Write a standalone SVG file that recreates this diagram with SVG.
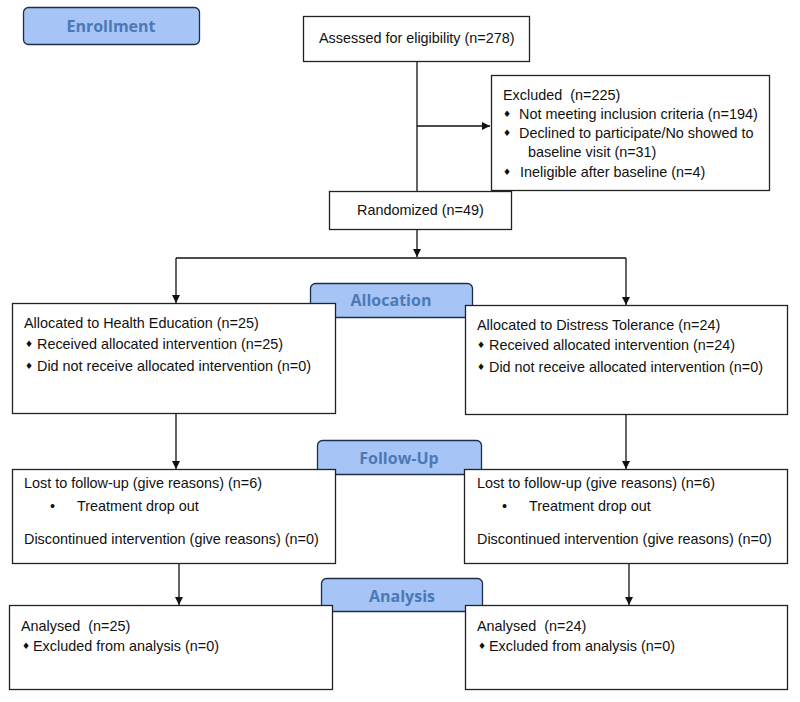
<svg xmlns="http://www.w3.org/2000/svg" width="800" height="702" viewBox="0 0 800 702">
<style>
.box{fill:#fff;stroke:#222;stroke-width:1.3}
.lbl{fill:#a6c4f6;stroke:#1f2d4a;stroke-width:1.3}
.lt{font-family:"Open Sans",sans-serif;font-weight:bold;font-size:16px;fill:#4c79b5;text-anchor:middle;dominant-baseline:central}
.t{font-family:"Liberation Sans",Arial,sans-serif;font-size:14.4px;fill:#111;dominant-baseline:central;white-space:pre}
.d{font-family:"DejaVu Sans",sans-serif;font-size:9px;fill:#111;dominant-baseline:central}
.c{fill:none;stroke:#111;stroke-width:1.3}
</style>
<defs>
<marker id="ah" markerWidth="8" markerHeight="8" refX="8" refY="4" orient="auto" markerUnits="userSpaceOnUse">
<path d="M0,0 L8,4 L0,8 Z" fill="#111"/>
</marker>
</defs>
<rect width="800" height="702" fill="#fff"/>

<g id="connectors">
<path class="c" d="M417,61 V191"/>
<path class="c" d="M417,126 H490" marker-end="url(#ah)"/>
<path class="c" d="M417,229 V257" marker-end="url(#ah)"/>
<path class="c" d="M176,258 H626"/>
<path class="c" d="M176,258 V303" marker-end="url(#ah)"/>
<path class="c" d="M626,258 V305" marker-end="url(#ah)"/>
<path class="c" d="M176,413 V469" marker-end="url(#ah)"/>
<path class="c" d="M626,414 V469" marker-end="url(#ah)"/>
<path class="c" d="M179,563 V605" marker-end="url(#ah)"/>
<path class="c" d="M629,563 V605" marker-end="url(#ah)"/>
</g>

<g id="enrollment">
<rect class="lbl" x="23.5" y="7.5" width="176" height="37" rx="5"/>
<text class="lt" x="111" y="26">Enrollment</text>
</g>

<g id="assessed">
<rect class="box" x="303.5" y="16.5" width="226" height="45"/>
<text class="t" x="319" y="38">Assessed for eligibility (n=278)</text>
</g>

<g id="excluded">
<rect class="box" x="491.5" y="75.5" width="278" height="115"/>
<text class="t" x="503" y="95" xml:space="preserve">Excluded  (n=225)</text>
<text class="d" x="503" y="114">♦</text>
<text class="t" x="519" y="114">Not meeting inclusion criteria (n=194)</text>
<text class="d" x="503" y="133">♦</text>
<text class="t" x="519" y="133">Declined to participate/No showed to</text>
<text class="t" x="528" y="152">baseline visit (n=31)</text>
<text class="d" x="503" y="172">♦</text>
<text class="t" x="520" y="172">Ineligible after baseline (n=4)</text>
</g>

<g id="randomized">
<rect class="box" x="329.5" y="191.5" width="182" height="38"/>
<text class="t" x="357" y="210">Randomized (n=49)</text>
</g>

<g id="allocation">
<rect class="lbl" x="310.5" y="283.5" width="162" height="34" rx="5"/>
<text class="lt" x="391" y="300">Allocation</text>
</g>

<g id="alloc-he">
<rect class="box" x="12.5" y="303.5" width="323" height="110"/>
<text class="t" x="24" y="323">Allocated to Health Education (n=25)</text>
<text class="d" x="25" y="344">♦</text>
<text class="t" x="37" y="344">Received allocated intervention (n=25)</text>
<text class="d" x="25" y="366">♦</text>
<text class="t" x="37" y="366">Did not receive allocated intervention (n=0)</text>
</g>

<g id="alloc-dt">
<rect class="box" x="465.5" y="305.5" width="322" height="109"/>
<text class="t" x="477" y="325">Allocated to Distress Tolerance (n=24)</text>
<text class="d" x="477" y="345">♦</text>
<text class="t" x="489" y="345">Received allocated intervention (n=24)</text>
<text class="d" x="477" y="367">♦</text>
<text class="t" x="489" y="367">Did not receive allocated intervention (n=0)</text>
</g>

<g id="followup">
<rect class="lbl" x="317.5" y="440.5" width="164" height="34" rx="5"/>
<text class="lt" x="399" y="458">Follow-Up</text>
</g>

<g id="fu-he">
<rect class="box" x="12.5" y="469.5" width="323" height="94"/>
<text class="t" x="24" y="483">Lost to follow-up (give reasons) (n=6)</text>
<text class="t" x="50" y="506">•</text>
<text class="t" x="77" y="506">Treatment drop out</text>
<text class="t" x="24" y="539">Discontinued intervention (give reasons) (n=0)</text>
</g>

<g id="fu-dt">
<rect class="box" x="464.5" y="469.5" width="323" height="94"/>
<text class="t" x="477" y="483">Lost to follow-up (give reasons) (n=6)</text>
<text class="t" x="502" y="506">•</text>
<text class="t" x="529" y="506">Treatment drop out</text>
<text class="t" x="477" y="539">Discontinued intervention (give reasons) (n=0)</text>
</g>

<g id="analysis">
<rect class="lbl" x="321.5" y="578.5" width="161" height="33" rx="5"/>
<text class="lt" x="402" y="596">Analysis</text>
</g>

<g id="an-he">
<rect class="box" x="9.5" y="605.5" width="323" height="84"/>
<text class="t" x="21" y="626" xml:space="preserve">Analysed  (n=25)</text>
<text class="d" x="22" y="646">♦</text>
<text class="t" x="33" y="646">Excluded from analysis (n=0)</text>
</g>

<g id="an-dt">
<rect class="box" x="465.5" y="605.5" width="322" height="84"/>
<text class="t" x="477" y="626" xml:space="preserve">Analysed  (n=24)</text>
<text class="d" x="478" y="646">♦</text>
<text class="t" x="489" y="646">Excluded from analysis (n=0)</text>
</g>
</svg>
